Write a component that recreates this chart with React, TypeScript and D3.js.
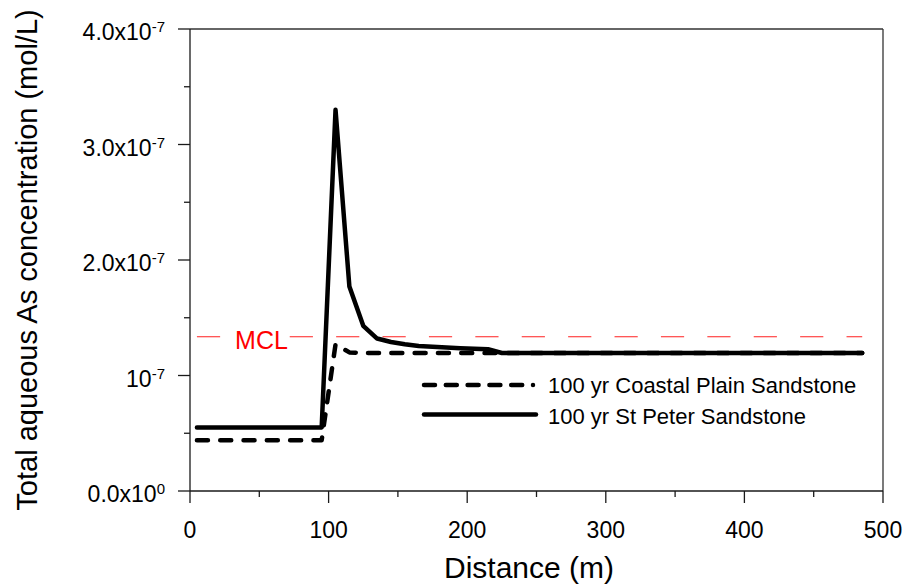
import React from "react";
import * as d3 from "d3";

const distance = [5, 15, 25, 35, 45, 55, 65, 75, 85, 95, 105, 115, 125, 135, 145, 155, 165, 175, 185, 195, 205, 215, 225, 235, 245, 255, 265, 275, 285, 295, 305, 315, 325, 335, 345, 355, 365, 375, 385, 395, 405, 415, 425, 435, 445, 455, 465, 475, 485];
// values in units of 1e-7 mol/L
const coastalPlain = [0.44, 0.44, 0.44, 0.44, 0.44, 0.44, 0.44, 0.44, 0.44, 0.44, 1.27, 1.2, 1.195, 1.195, 1.195, 1.195, 1.195, 1.195, 1.195, 1.195, 1.195, 1.195, 1.195, 1.195, 1.195, 1.195, 1.195, 1.195, 1.195, 1.195, 1.195, 1.195, 1.195, 1.195, 1.195, 1.195, 1.195, 1.195, 1.195, 1.195, 1.195, 1.195, 1.195, 1.195, 1.195, 1.195, 1.195, 1.195, 1.195];
const stPeter = [0.55, 0.55, 0.55, 0.55, 0.55, 0.55, 0.55, 0.55, 0.55, 0.55, 3.3, 1.77, 1.43, 1.32, 1.29, 1.27, 1.255, 1.248, 1.242, 1.237, 1.232, 1.228, 1.195, 1.195, 1.195, 1.195, 1.195, 1.195, 1.195, 1.195, 1.195, 1.195, 1.195, 1.195, 1.195, 1.195, 1.195, 1.195, 1.195, 1.195, 1.195, 1.195, 1.195, 1.195, 1.195, 1.195, 1.195, 1.195, 1.195];
const mclValue = 1.335;
const mclRange = [5, 485];

const xMajorTicks = [0, 100, 200, 300, 400, 500];
const xMinorTicks = [50, 150, 250, 350, 450];
const yMajorTicks = [0, 1, 2, 3, 4];
const yMinorTicks = [0.5, 1.5, 2.5, 3.5];
const yTickMain = ["0.0x10", "10", "2.0x10", "3.0x10", "4.0x10"];
const yTickSup = ["0", "-7", "-7", "-7", "-7"];

const seriesNames = ["100 yr Coastal Plain Sandstone", "100 yr St Peter Sandstone"];

const FONT = "'Liberation Sans', Arial, Helvetica, sans-serif";

export default function App() {
  const W = 909, H = 588;
  const x = d3.scaleLinear().domain([0, 500]).range([190, 883]);
  const y = d3.scaleLinear().domain([0, 4]).range([491, 29]);

  const line = d3.line<[number, number]>().x(d => x(d[0])).y(d => y(d[1]));
  const cpPts: [number, number][] = distance.map((d, i) => [d, coastalPlain[i]]);
  const spPts: [number, number][] = distance.map((d, i) => [d, stPeter[i]]);

  const axisColor = "#1a1a1a";
  const frameColor = "#333";

  return (
    <svg width={W} height={H} style={{ position: "absolute", left: 0, top: 0, background: "#fff" }} fontFamily={FONT}>
      <rect x={0} y={0} width={W} height={H} fill="#fff" />
      {/* MCL line */}
      <line x1={x(mclRange[0])} x2={x(mclRange[1])} y1={y(mclValue)} y2={y(mclValue)} stroke="#ff2020" strokeWidth={1.1} strokeDasharray="23.2,23.2" />
      <rect x={231} y={326} width={57.5} height={26} fill="#fff" />
      <text x={261.5} y={349} textAnchor="middle" fontSize={25} fill="#ff0000">MCL</text>

      {/* frame */}
      <line x1={x(0)} x2={x(500)} y1={y(4)} y2={y(4)} stroke={frameColor} strokeWidth={1.3} />
      <line x1={x(500)} x2={x(500)} y1={y(4)} y2={y(0)} stroke={frameColor} strokeWidth={1.3} />
      <line x1={x(0)} x2={x(500)} y1={y(0)} y2={y(0)} stroke={axisColor} strokeWidth={1.3} />
      <line x1={x(0)} x2={x(0)} y1={y(4)} y2={y(0)} stroke={axisColor} strokeWidth={1.3} />

      {/* x ticks */}
      {xMajorTicks.map(t => (
        <g key={"xM" + t}>
          <line x1={x(t)} x2={x(t)} y1={y(0)} y2={y(0) + 12} stroke={axisColor} strokeWidth={1.3} />
          <text x={x(t)} y={538} textAnchor="middle" fontSize={23} fill="#000">{t}</text>
        </g>
      ))}
      {xMinorTicks.map(t => (
        <line key={"xm" + t} x1={x(t)} x2={x(t)} y1={y(0)} y2={y(0) + 6} stroke={axisColor} strokeWidth={1.3} />
      ))}

      {/* y ticks */}
      {yMajorTicks.map((t, i) => (
        <g key={"yM" + t}>
          <line x1={x(0) - 12} x2={x(0)} y1={y(t)} y2={y(t)} stroke={axisColor} strokeWidth={1.3} />
          <text x={165} y={y(t) + 11} textAnchor="end" fontSize={23} fill="#000">
            {yTickMain[i]}
            <tspan fontSize={15} dy={-8}>{yTickSup[i]}</tspan>
          </text>
        </g>
      ))}
      {yMinorTicks.map(t => (
        <line key={"ym" + t} x1={x(0) - 6} x2={x(0)} y1={y(t)} y2={y(t)} stroke={axisColor} strokeWidth={1.3} />
      ))}

      {/* data */}
      <path d={line(cpPts) || ""} fill="none" stroke="#000" strokeWidth={4.5} strokeLinecap="round" strokeLinejoin="round" strokeDasharray="11,12.3" />
      <path d={line(spPts) || ""} fill="none" stroke="#000" strokeWidth={4.5} strokeLinecap="round" strokeLinejoin="round" />

      {/* legend */}
      <line x1={424} x2={533} y1={385} y2={385} stroke="#000" strokeWidth={4.5} strokeLinecap="round" strokeDasharray="11,10.8" />
      <text x={548} y={393} fontSize={22} fill="#000">{seriesNames[0]}</text>
      <line x1={424} x2={536} y1={414.5} y2={414.5} stroke="#000" strokeWidth={4.5} strokeLinecap="round" />
      <text x={548} y={424} fontSize={22} fill="#000">{seriesNames[1]}</text>

      {/* axis titles */}
      <text x={529} y={578} textAnchor="middle" fontSize={30} fill="#000">Distance (m)</text>
      <text transform="translate(37,260) rotate(-90)" textAnchor="middle" fontSize={29} fill="#000">Total aqueous As concentration (mol/L)</text>
    </svg>
  );
}
